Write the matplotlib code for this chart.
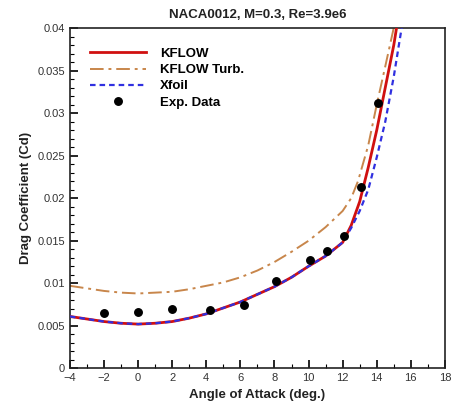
import matplotlib
matplotlib.use("Agg")
import matplotlib.pyplot as plt
from matplotlib.ticker import MultipleLocator

plt.rcParams['font.family'] = ['Liberation Sans', 'DejaVu Sans']

# Data
kflow_aoa = [-4, -3, -2, -1, 0, 1, 2, 3, 4, 5, 6, 7, 8, 9, 10, 11, 12, 12.5, 13,
             13.5, 14, 14.5, 15, 15.2]
kflow_cd = [0.0061, 0.0058, 0.0055, 0.0053, 0.0052, 0.0053, 0.0055, 0.0059, 0.0064,
            0.0071, 0.0078, 0.0087, 0.0096, 0.0107, 0.0120, 0.0132, 0.0148, 0.0168,
            0.0196, 0.0236, 0.0280, 0.0330, 0.0380, 0.0405]

turb_aoa = [-4, -3, -2, -1, 0, 1, 2, 3, 4, 5, 6, 7, 8, 9, 10, 11, 12, 12.5, 12.9,
            13.5, 14, 14.5, 15.05]
turb_cd = [0.0097, 0.0094, 0.0091, 0.0089, 0.0088, 0.0089, 0.0090, 0.0093, 0.0097,
           0.0101, 0.0107, 0.0115, 0.0125, 0.0137, 0.0150, 0.0166, 0.0185, 0.0200,
           0.0220, 0.0262, 0.0310, 0.0355, 0.0405]

xfoil_aoa = [-4, -3, -2, -1, 0, 1, 2, 3, 4, 5, 6, 7, 8, 9, 10, 11, 12, 12.5, 13,
             13.5, 14, 14.5, 15, 15.5]
xfoil_cd = [0.0061, 0.0058, 0.0055, 0.0053, 0.0052, 0.0053, 0.0055, 0.0059, 0.0064,
            0.0071, 0.0078, 0.0087, 0.0096, 0.0107, 0.0120, 0.0132, 0.0148, 0.0165,
            0.0185, 0.0210, 0.0248, 0.0290, 0.0343, 0.0405]

exp_aoa = [-2, 0, 2, 4.2, 6.2, 8.1, 10.1, 11.1, 12.1, 13.1, 14.1]
exp_cd = [0.0065, 0.0066, 0.0070, 0.0068, 0.0074, 0.0103, 0.0127, 0.0138, 0.0156,
          0.0213, 0.0312]

fig = plt.figure(figsize=(4.54, 4.07), dpi=100)
ax = fig.add_axes([0.154, 0.095, 0.826, 0.836])

ax.plot(kflow_aoa, kflow_cd, color='#D01010', lw=2.0, label='KFLOW', zorder=3)
ax.plot(turb_aoa, turb_cd, color='#C8864B', lw=1.4, ls=(0, (7, 2.5, 1.5, 2.5)),
        label='KFLOW Turb.', zorder=2)
ax.plot(xfoil_aoa, xfoil_cd, color='#3030E0', lw=1.6, ls=(0, (2.5, 1.8)),
        label='Xfoil', zorder=4)
ax.plot(exp_aoa, exp_cd, 'o', color='black', ms=5.4, ls='none', label='Exp. Data',
        zorder=5)

ax.set_xlim(-4, 18)
ax.set_ylim(0, 0.04)
ax.xaxis.set_major_locator(MultipleLocator(2))
ax.xaxis.set_minor_locator(MultipleLocator(1))
ax.yaxis.set_major_locator(MultipleLocator(0.005))
ax.yaxis.set_minor_locator(MultipleLocator(0.001))
ax.yaxis.set_major_formatter(matplotlib.ticker.FuncFormatter(
    lambda v, p: '0' if abs(v) < 1e-12 else ('%.3f' % v).rstrip('0')))

ax.tick_params(which='both', direction='in', top=False, right=False,
               labelsize=8, labelcolor='#333333')
ax.tick_params(which='major', length=6, width=1.2)
ax.tick_params(which='minor', length=3, width=0.8)
for s in ax.spines.values():
    s.set_linewidth(1.2)
    s.set_color('#222222')

ax.set_xlabel('Angle of Attack (deg.)', fontsize=9.5, fontweight='bold', color='#222222')
ax.set_ylabel('Drag Coefficient (Cd)', fontsize=9.5, fontweight='bold', color='#222222')
ax.set_title('NACA0012, M=0.3, Re=3.9e6', fontsize=9.5, fontweight='bold',
             color='#222222', pad=7)

leg = ax.legend(loc='upper left', frameon=False, handlelength=4.3,
                handletextpad=1.0, labelspacing=0.3, borderaxespad=1.1,
                prop={'weight': 'bold', 'size': 9.5})

fig.savefig('out.png', dpi=100)
